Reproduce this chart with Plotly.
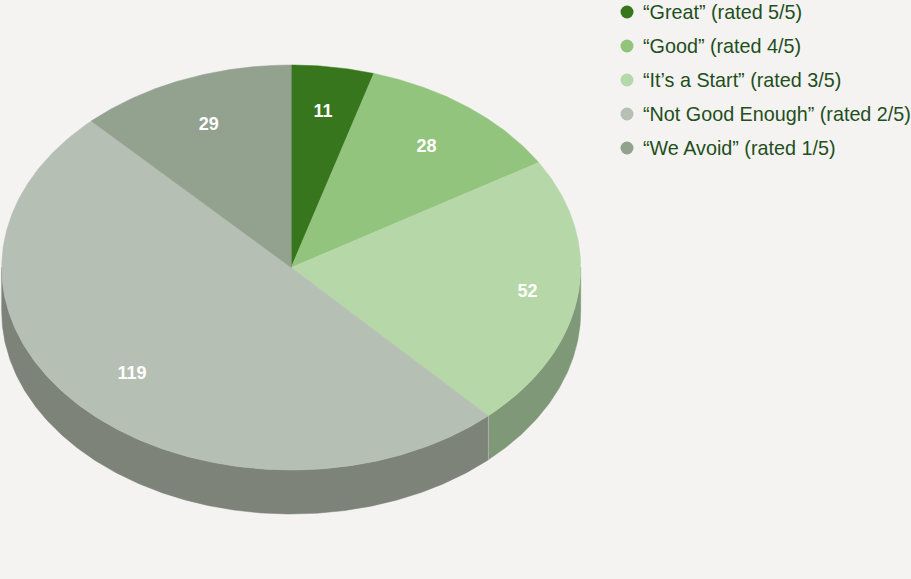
import numpy as np
import plotly.graph_objects as go

# Data
categories = ["“Great” (rated 5/5)", "“Good” (rated 4/5)", "“It’s a Start” (rated 3/5)",
              "“Not Good Enough” (rated 2/5)", "“We Avoid” (rated 1/5)"]
values = [11, 28, 52, 119, 29]

# Styles
top_colors = ["#38761d", "#93c47d", "#b6d7a8", "#b6bfb3", "#93a18f"]
side_colors = ["#2a5816", "#6e935d", "#7f9878", "#7d8378", "#6e786b"]
BG = "#f4f3f2"
TEXT = "#1f4f1c"

# Projected pie geometry (pixels of the 911x579 plot area)
CX, CY, RX, RY, DEPTH = 291.2, 267.5, 289.5, 202.5, 44.0
LABEL_R = 0.765
label_dx = [0, 0, 17, 2, 0]
label_dy = [-2, 3, 4, 1, 2]

# Legend placement
LEG_X, LEG_TEXT_X, LEG_Y0, LEG_TEXT_DY, LEG_STEP = 627, 643, 12, 2, 34


def arc(a0, a1, dy=0.0):
    t = np.radians(np.linspace(a0, a1, max(int(abs(a1 - a0) * 2), 2)))
    return CX + RX * np.sin(t), CY + dy - RY * np.cos(t)


fig = go.Figure()
total = sum(values)
edges = np.concatenate([[0], np.cumsum(values)]) / total * 360.0

# Visible side walls: the front half of the rim, 90..270 degrees
for i in range(len(values)):
    a0, a1 = max(edges[i], 90.0), min(edges[i + 1], 270.0)
    if a1 <= a0:
        continue
    x1, y1 = arc(a0, a1)
    x2, y2 = arc(a1, a0, DEPTH)
    fig.add_trace(go.Scatter(
        x=np.r_[x1, x2, x1[0]], y=np.r_[y1, y2, y1[0]], mode="lines", fill="toself",
        fillcolor=side_colors[i], line=dict(color=side_colors[i], width=0.5),
        hoverinfo="skip", showlegend=False))
    # thin lighter seam where two walls meet
    if edges[i] > 90.0:
        fig.add_trace(go.Scatter(
            x=[x1[0], x2[-1]], y=[y1[0], y2[-1]], mode="lines",
            line=dict(color="#a9b2a5", width=1), hoverinfo="skip", showlegend=False))

# Top face wedges
for i in range(len(values)):
    x, y = arc(edges[i], edges[i + 1])
    fig.add_trace(go.Scatter(
        x=np.r_[CX, x, CX], y=np.r_[CY, y, CY], mode="lines", fill="toself",
        fillcolor=top_colors[i], line=dict(color=top_colors[i], width=0.5),
        name=categories[i], hoverinfo="skip", showlegend=False))

# Value labels
mid = np.radians((edges[:-1] + edges[1:]) / 2)
fig.add_trace(go.Scatter(
    x=CX + LABEL_R * RX * np.sin(mid) + np.array(label_dx),
    y=CY - LABEL_R * RY * np.cos(mid) + np.array(label_dy),
    mode="text", text=[str(v) for v in values], textposition="middle center",
    textfont=dict(family="Liberation Sans", size=18, color="white", weight="bold"),
    hoverinfo="skip", showlegend=False))

# Legend entries
leg_y = [LEG_Y0 + LEG_STEP * i for i in range(len(categories))]
fig.add_trace(go.Scatter(
    x=[LEG_X] * len(categories), y=leg_y, mode="markers",
    marker=dict(color=top_colors, size=13, line=dict(width=0)),
    hoverinfo="skip", showlegend=False))
fig.add_trace(go.Scatter(
    x=[LEG_TEXT_X] * len(categories), y=[v + LEG_TEXT_DY for v in leg_y], mode="text",
    text=categories, textposition="middle right",
    textfont=dict(family="Liberation Sans", size=19.75, color=TEXT),
    hoverinfo="skip", showlegend=False))

fig.update_layout(
    width=911, height=579, margin=dict(l=0, r=0, t=0, b=0), autosize=False,
    paper_bgcolor=BG, plot_bgcolor=BG, showlegend=False,
    xaxis=dict(range=[0, 911], visible=False, fixedrange=True),
    yaxis=dict(range=[579, 0], visible=False, fixedrange=True),
)

fig.write_html("out.html", config=dict(displayModeBar=False),
               post_script="document.body.style.margin='0';")
